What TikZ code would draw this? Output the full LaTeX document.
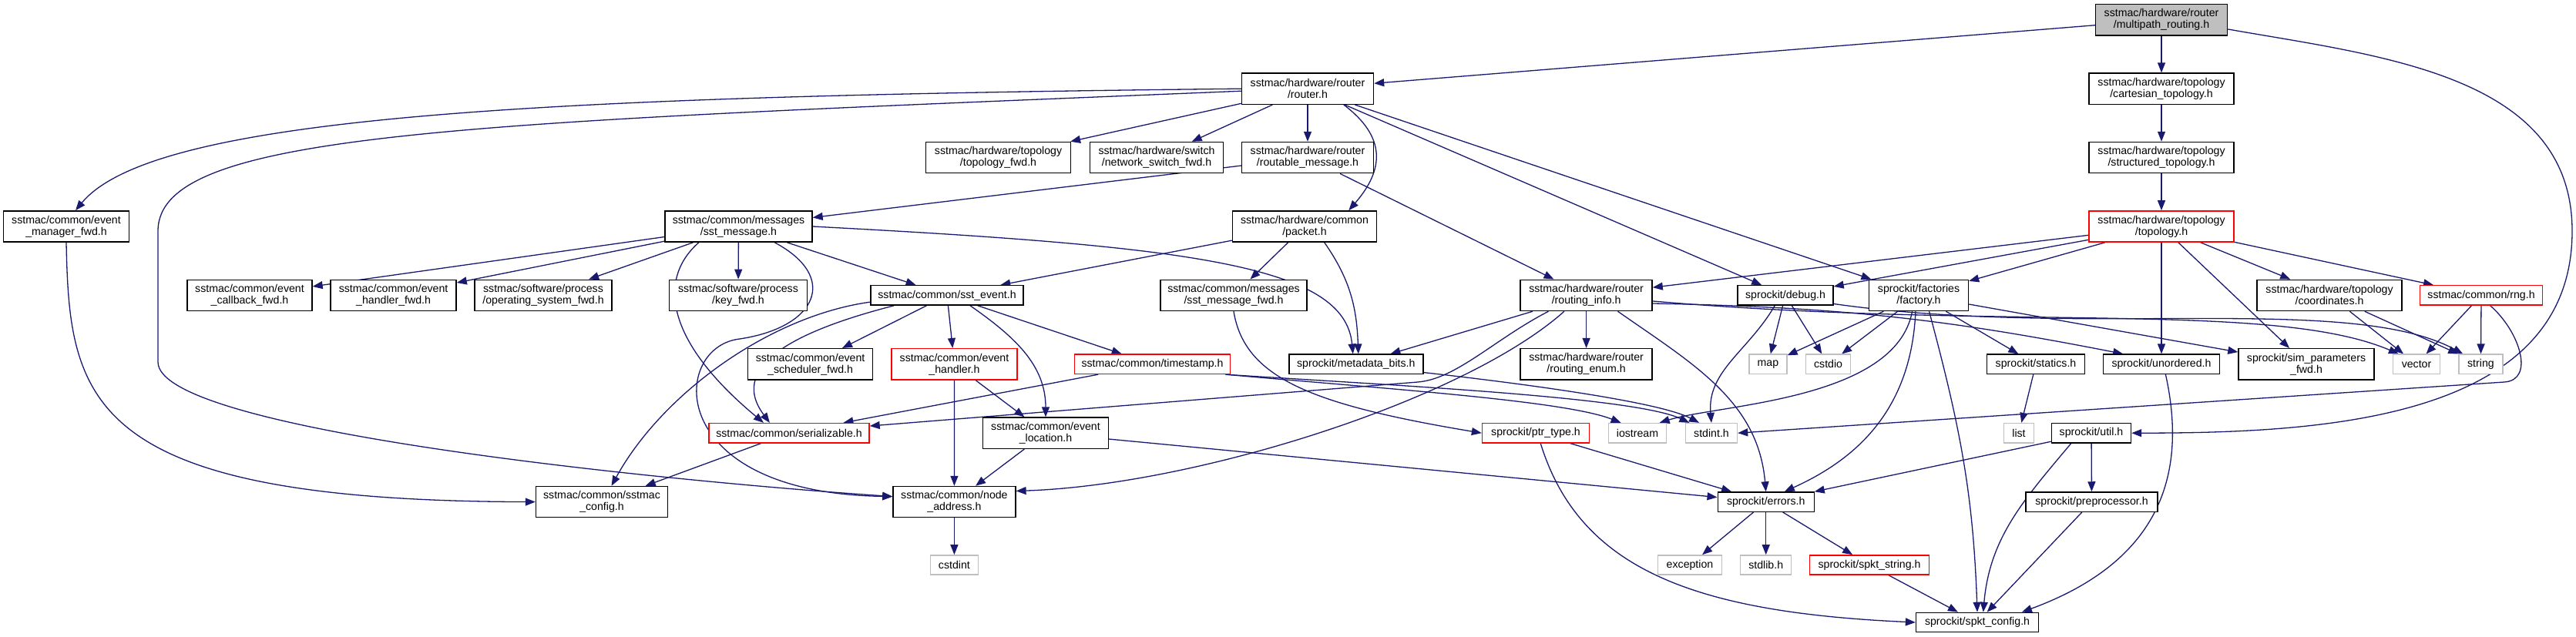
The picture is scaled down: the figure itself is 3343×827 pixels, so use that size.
\documentclass[tikz,border=0pt]{standalone}
\usepackage{fontspec}
\setmainfont{Liberation Sans}
\usepackage{xcolor}
\usepackage{tikz}
\usetikzlibrary{arrows.meta,backgrounds}
\definecolor{edgeblue}{RGB}{25,25,112}
\definecolor{grey75}{RGB}{191,191,191}

\begin{document}
\begin{tikzpicture}[
    x=1pt, y=1pt,
    every node/.style={font=\fontsize{14.15}{15}\selectfont},
    hdr/.style={draw=black, line width=1.4pt, fill=white, align=center, inner xsep=2pt, inner ysep=1pt, minimum height=25.3pt},
    two/.style={hdr, minimum height=40.3pt},
    sys/.style={hdr, draw=grey75},
    trunc/.style={draw=red},
    dep/.style={draw=edgeblue, line width=1.3pt, -{Triangle[length=13pt,width=10pt]}}
]
\useasboundingbox (0,0) rectangle (3343,-827);

\node[two, fill=grey75, minimum width=171pt] (mr) at (2805,-25.8) {sstmac/hardware/router\\/multipath\_routing.h};

\node[two, minimum width=171pt] (router) at (1697,-115.2) {sstmac/hardware/router\\/router.h};
\node[two, minimum width=188pt] (cart) at (2805,-115.2) {sstmac/hardware/topology\\/cartesian\_topology.h};

\node[two, minimum width=188pt] (topofwd) at (1295.5,-204.6) {sstmac/hardware/topology\\/topology\_fwd.h};
\node[two, minimum width=173pt] (nswfwd) at (1501,-204.6) {sstmac/hardware/switch\\/network\_switch\_fwd.h};
\node[two, minimum width=171pt] (routable) at (1697,-204.6) {sstmac/hardware/router\\/routable\_message.h};
\node[two, minimum width=188pt] (struct) at (2805,-204.6) {sstmac/hardware/topology\\/structured\_topology.h};

\node[two, minimum width=163pt] (evmgr) at (86,-294) {sstmac/common/event\\\_manager\_fwd.h};
\node[two, minimum width=191pt] (smsg) at (958.5,-294) {sstmac/common/messages\\/sst\_message.h};
\node[two, minimum width=187pt] (packet) at (1693,-294) {sstmac/hardware/common\\/packet.h};
\node[two, trunc, minimum width=188pt] (topo) at (2805,-294) {sstmac/hardware/topology\\/topology.h};

\node[two, minimum width=162pt] (evcb) at (324,-383.4) {sstmac/common/event\\\_callback\_fwd.h};
\node[two, minimum width=163pt] (evhfwd) at (510.6,-383.4) {sstmac/common/event\\\_handler\_fwd.h};
\node[two, minimum width=178pt] (osfwd) at (705,-383.4) {sstmac/software/process\\/operating\_system\_fwd.h};
\node[two, minimum width=179pt] (keyfwd) at (958,-383.4) {sstmac/software/process\\/key\_fwd.h};
\node[hdr, minimum width=198pt] (sstev) at (1229,-383.4) {sstmac/common/sst\_event.h};
\node[two, minimum width=190pt] (smsgfwd) at (1601,-383.4) {sstmac/common/messages\\/sst\_message\_fwd.h};
\node[two, minimum width=171pt] (rinfo) at (2058.6,-383.4) {sstmac/hardware/router\\/routing\_info.h};
\node[hdr, minimum width=124pt] (debug) at (2317,-383.4) {sprockit/debug.h};
\node[two, minimum width=129pt] (factory) at (2490,-383.4) {sprockit/factories\\/factory.h};
\node[two, minimum width=188pt] (coords) at (3023,-383.4) {sstmac/hardware/topology\\/coordinates.h};
\node[hdr, trunc, minimum width=159pt] (rng) at (3220,-383.4) {sstmac/common/rng.h};

\node[two, minimum width=162pt] (evsched) at (1051.6,-472.8) {sstmac/common/event\\\_scheduler\_fwd.h};
\node[two, trunc, minimum width=163pt] (evhandler) at (1238.5,-472.8) {sstmac/common/event\\\_handler.h};
\node[hdr, trunc, minimum width=202pt] (tstamp) at (1495.5,-472.8) {sstmac/common/timestamp.h};
\node[hdr, minimum width=174pt] (metadata) at (1759.8,-472.8) {sprockit/metadata\_bits.h};
\node[two, minimum width=171pt] (routenum) at (2058.6,-472.8) {sstmac/hardware/router\\/routing\_enum.h};
\node[sys, minimum width=49pt] (map) at (2294.4,-472.8) {map};
\node[sys, minimum width=58pt] (cstdio) at (2372.6,-472.8) {cstdio};
\node[hdr, minimum width=127pt] (statics) at (2642,-472.8) {sprockit/statics.h};
\node[hdr, minimum width=151pt] (unordered) at (2805,-472.8) {sprockit/unordered.h};
\node[two, minimum width=176pt] (simparam) at (2993,-472.8) {sprockit/sim\_parameters\\\_fwd.h};
\node[sys, minimum width=61pt] (vector) at (3136,-472.8) {vector};
\node[sys, minimum width=57pt] (string) at (3219.4,-472.8) {string};

\node[hdr, trunc, minimum width=208pt] (serial) at (1024,-562.2) {sstmac/common/serializable.h};
\node[two, minimum width=163pt] (evloc) at (1357,-562.2) {sstmac/common/event\\\_location.h};
\node[hdr, trunc, minimum width=139pt] (ptrtype) at (1993,-562.2) {sprockit/ptr\_type.h};
\node[sys, minimum width=75.5pt] (iostream) at (2125,-562.2) {iostream};
\node[sys, minimum width=67pt] (stdint) at (2221,-562.2) {stdint.h};
\node[sys, minimum width=39pt] (list) at (2620,-562.2) {list};
\node[hdr, minimum width=103pt] (util) at (2714,-562.2) {sprockit/util.h};

\node[two, minimum width=171pt] (sstcfg) at (781,-651.6) {sstmac/common/sstmac\\\_config.h};
\node[two, minimum width=159pt] (nodeaddr) at (1238.4,-651.6) {sstmac/common/node\\\_address.h};
\node[hdr, minimum width=125pt] (errors) at (2291.7,-651.6) {sprockit/errors.h};
\node[hdr, minimum width=171pt] (preproc) at (2714.5,-651.6) {sprockit/preprocessor.h};

\node[sys, minimum width=62pt] (cstdint) at (1238.4,-733.5) {cstdint};
\node[sys, minimum width=83pt] (exception) at (2193,-733.5) {exception};
\node[sys, minimum width=66pt] (stdlib) at (2291.7,-733.5) {stdlib.h};
\node[hdr, trunc, minimum width=155pt] (spktstr) at (2426,-733.5) {sprockit/spkt\_string.h};

\node[hdr, minimum width=159pt] (spktcfg) at (2566,-808) {sprockit/spkt\_config.h};

\begin{scope}[on background layer]
\foreach \a/\b in {mr/router, mr/cart, cart/struct, struct/topo, topo/rinfo, topo/debug,
    topo/factory, topo/unordered, topo/simparam, topo/coords, topo/rng, router/topofwd,
    router/nswfwd, router/routable, router/debug, router/factory, routable/smsg, routable/rinfo,
    smsg/evcb, smsg/evhfwd, smsg/osfwd, smsg/keyfwd, smsg/sstev, packet/sstev, packet/smsgfwd,
    sstev/evsched, sstev/evhandler, sstev/tstamp, evhandler/nodeaddr, evhandler/evloc,
    evloc/nodeaddr, evloc/errors, tstamp/serial, serial/sstcfg, nodeaddr/cstdint,
    rinfo/metadata, rinfo/routenum, debug/map, debug/cstdio, factory/map, factory/cstdio,
    factory/statics, factory/simparam, coords/vector, coords/string, rng/vector, rng/string,
    statics/list, util/errors, util/preproc, preproc/spktcfg, ptrtype/errors,
    errors/exception, errors/stdlib, errors/spktstr, spktstr/spktcfg}
  \draw[dep] (\a) -- (\b);

\draw[dep] (mr.-8) to[out=-10,in=90] (3338,-300) to[out=-90,in=0] (util.east);
\draw[dep] (router.west) .. controls (700,-125) and (200,-150) .. (evmgr.60);
\draw[dep] (router.-178) .. controls (600,-160) and (205,-170) .. (205,-300) -- (205,-470)
    .. controls (205,-560) and (870,-625) .. (nodeaddr.175);
\draw[dep] (router.-24) to[out=-37,in=49,looseness=1.3] (packet.20);
\draw[dep] (smsg.east) .. controls (1550,-320) and (1745,-345) .. ([xshift=-4pt]metadata.north);
\draw[dep] (packet.-39) to[out=-55,in=92] ([xshift=3pt]metadata.north);
\draw[dep] (smsg.-158) .. controls (855,-360) and (860,-440) .. (serial.158);
\draw[dep] (smsg.-24) .. controls (1090,-360) and (1060,-425) .. (960,-440)
    .. controls (870,-450) and (860,-640) .. (nodeaddr.175);
\draw[dep] (smsgfwd.south) .. controls (1615,-490) and (1700,-525) .. (ptrtype.west);
\draw[dep] (sstev.-24) to[out=-35,in=90] (evloc.north);
\draw[dep] (sstev.-169) .. controls (1050,-425) and (940,-470) .. (serial.152);
\draw[dep] (sstev.-175) .. controls (1000,-410) and (860,-510) .. (sstcfg.59);
\draw[dep] (evmgr.south) .. controls (90,-520) and (110,-650) .. (sstcfg.west);
\draw[dep] (tstamp.-8) .. controls (1800,-505) and (2030,-520) .. (iostream.148);
\draw[dep] (tstamp.-8) .. controls (1800,-500) and (2120,-515) .. (stdint.155);
\draw[dep] (metadata.-7) .. controls (1950,-495) and (2150,-520) .. (stdint.140);
\draw[dep] (rinfo.-157) .. controls (1940,-440) and (1890,-492) .. (1840,-496) -- (serial.5);
\draw[dep] (rinfo.-144) .. controls (1900,-520) and (1550,-630) .. (nodeaddr.10);
\draw[dep] (rinfo.-27) to[out=-35,in=95] (errors.north);
\draw[dep] (rinfo.-7) to[bend left=5] (unordered.165);
\draw[dep] (rinfo.-5) .. controls (2600,-430) and (2950,-390) .. (vector.150);
\draw[dep] (debug.-136) to[out=-120,in=95] (stdint.north);
\draw[dep] (debug.-10) .. controls (2700,-440) and (3050,-380) .. (string.150);
\draw[dep] (factory.-112) .. controls (2460,-520) and (2230,-525) .. (iostream.25);
\draw[dep] (factory.-101) .. controls (2480,-540) and (2400,-600) .. (errors.29);
\draw[dep] (factory.-57) to[out=-75,in=92] (spktcfg.north);
\draw[dep] (unordered.-68) .. controls (2840,-620) and (2800,-730) .. (spktcfg.13);
\draw[dep] (util.-153) to[out=-130,in=85] (spktcfg.60);
\draw[dep] (rng.-49) .. controls (3270,-430) and (3290,-493.4) .. (3250,-496) -- (stdint.east);
\draw[dep] (ptrtype.-65) .. controls (2050,-740) and (2200,-795) .. (spktcfg.west);
\end{scope}
\end{tikzpicture}
\end{document}
